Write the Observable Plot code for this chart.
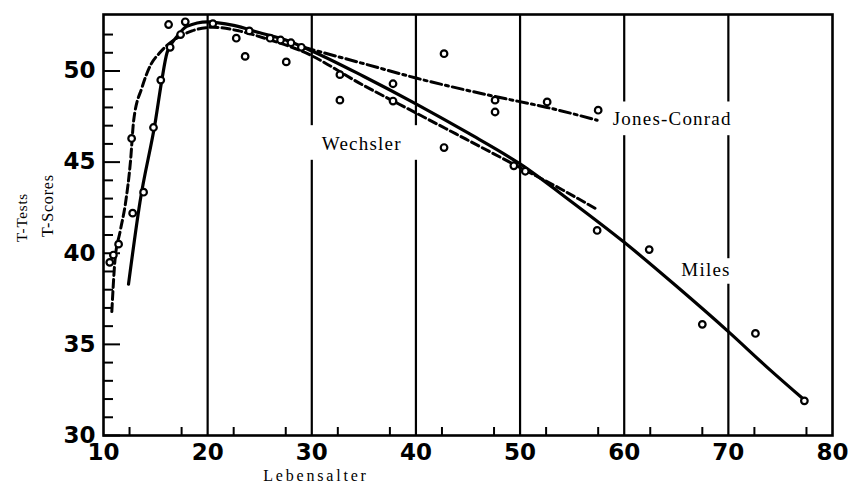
<!DOCTYPE html>
<html>
<head>
<meta charset="utf-8">
<script src="https://cdn.jsdelivr.net/npm/d3@7"></script>
<script src="https://cdn.jsdelivr.net/npm/@observablehq/plot@0.6"></script>
<style>
  html, body { margin: 0; padding: 0; background: #fff; }
  #chart { width: 848px; height: 490px; }
</style>
</head>
<body>
<div id="chart"></div>
<script>
// ---- data ----
const milesAge = [12.4, 13.5, 15.0, 15.6, 16.1, 17.0, 18.0, 20.0, 22.5, 25, 27.5, 30, 35, 40, 45, 50, 55, 60, 65, 70, 74, 77.2];
const milesT   = [38.3, 42.8, 47.3, 49.5, 51.0, 51.85, 52.45, 52.7, 52.5, 52.1, 51.7, 51.1, 49.7, 48.2, 46.6, 44.9, 42.8, 40.6, 38.2, 35.7, 33.6, 32.0];

const wechAge = [10.8, 11.1, 11.6, 12.1, 12.6, 12.9, 13.7, 14.5, 15.4, 16.9, 18.5, 20.5, 23, 26, 29, 35, 40, 45, 50, 54, 57.4];
const wechT   = [36.8, 39.6, 41.2, 42.7, 45.1, 47.3, 49.1, 50.3, 51.0, 51.75, 52.2, 52.4, 52.2, 51.7, 51.1, 49.2, 47.7, 46.2, 44.7, 43.5, 42.4];

const jcAge = [29.2, 35, 40.1, 47.6, 52.6, 57.4];
const jcT   = [51.3, 50.4, 49.6, 48.6, 48.0, 47.3];

const ptAge = [10.6, 10.95, 11.45, 12.8, 12.7, 13.85, 14.8, 15.5, 16.25, 16.4, 17.4, 17.85, 20.5, 22.75, 23.6, 24.0, 26.0, 27.0, 27.55, 28.0, 29.0, 32.7, 32.7, 37.8, 37.8, 42.7, 42.7, 47.6, 47.6, 49.4, 50.5, 52.6, 57.5, 57.4, 62.4, 67.5, 72.6, 77.3];
const ptT   = [39.5, 39.9, 40.5, 42.2, 46.3, 43.35, 46.9, 49.5, 52.55, 51.3, 52.0, 52.7, 52.6, 51.8, 50.8, 52.2, 51.8, 51.7, 50.5, 51.55, 51.3, 49.8, 48.4, 49.3, 48.35, 50.95, 45.8, 48.4, 47.75, 44.8, 44.5, 48.3, 47.85, 41.25, 40.2, 36.1, 35.6, 31.9];

const xTickLabels = [10, 20, 30, 40, 50, 60, 70, 80];
const yTickLabels = [30, 35, 40, 45, 50];
const gridAges = [20, 30, 40, 50, 60, 70];
const groupAges = [12.5, 17.5, 22.5, 27.5, 32.5, 37.5, 42.5, 47.5, 52.5, 57.5, 62.5, 67.5, 72.5, 77.5];
const yMinorTicks = [31, 32, 33, 34, 36, 37, 38, 39, 41, 42, 43, 44, 46, 47, 48, 49, 51, 52];

const labelText = ["Wechsler", "Jones-Conrad", "Miles"];
const labelAge  = [34.8, 58.9, 67.85];
const labelT    = [46.0, 47.37, 39.1];
const labelAnchor = ["middle", "start", "middle"];

// gaps in the vertical grid lines behind the labels
const gapX1 = [29.3, 59.5, 69.5];
const gapX2 = [40.7, 70.5, 70.5];
const gapY1 = [45.1, 46.45, 38.3];
const gapY2 = [47.0, 48.3, 39.7];

// ---- tables ----
const miles = milesAge.map((a, i) => ({age: a, t: milesT[i]}));
const wech = wechAge.map((a, i) => ({age: a, t: wechT[i]}));
const jc = jcAge.map((a, i) => ({age: a, t: jcT[i]}));
const pts = ptAge.map((a, i) => ({age: a, t: ptT[i]}));
const labels = labelText.map((s, i) => ({s, age: labelAge[i], t: labelT[i], anchor: labelAnchor[i]}));
const gaps = gapX1.map((x1, i) => ({x1, x2: gapX2[i], y1: gapY1[i], y2: gapY2[i]}));

const W = 848, H = 490, mL = 103, mR = 16, mT = 14, mB = 55;
const plotW = W - mL - mR, plotH = H - mT - mB;
const serif = "Liberation Serif";
const numFont = "DejaVu Sans";

const chart = Plot.plot({
  width: W,
  height: H,
  marginLeft: mL,
  marginRight: mR,
  marginTop: mT,
  marginBottom: mB,
  x: {domain: [10, 80]},
  y: {domain: [30, 53.1]},
  style: {background: "#fff", color: "#000"},
  marks: [
    Plot.ruleX(gridAges, {x: d => d, stroke: "#000", strokeWidth: 2.2}),
    Plot.rect(gaps, {x1: "x1", x2: "x2", y1: "y1", y2: "y2", fill: "#fff"}),
    Plot.frame({stroke: "#000", strokeWidth: 2.6}),
    Plot.tickY(yMinorTicks, {y: d => d, insetRight: plotW - 10, stroke: "#000", strokeWidth: 2}),
    Plot.tickY(yTickLabels, {y: d => d, insetRight: plotW - 17, stroke: "#000", strokeWidth: 2}),
    Plot.tickX(groupAges, {x: d => d, insetTop: plotH - 8, stroke: "#000", strokeWidth: 2}),
    Plot.axisX({ticks: xTickLabels, tickSize: 0, tickPadding: 8, label: null, fontSize: 23, fontFamily: numFont, fontWeight: "bold", tickFormat: d => d}),
    Plot.axisY({ticks: yTickLabels, tickSize: 0, tickPadding: 8, label: null, fontSize: 23, fontFamily: numFont, fontWeight: "bold", tickFormat: d => d}),
    Plot.line(miles, {x: "age", y: "t", curve: "monotone-x", stroke: "#000", strokeWidth: 3.2}),
    Plot.line(wech, {x: "age", y: "t", curve: "monotone-x", stroke: "#000", strokeWidth: 3, strokeDasharray: "8,4"}),
    Plot.line(jc, {x: "age", y: "t", curve: "monotone-x", stroke: "#000", strokeWidth: 3, strokeDasharray: "11,4,3,4"}),
    Plot.dot(pts, {x: "age", y: "t", r: 3.3, stroke: "#000", strokeWidth: 2.2, fill: "#fff"}),
    Plot.text(labels, {x: "age", y: "t", text: "s", textAnchor: "start", filter: d => d.anchor === "start", fontFamily: serif, fontSize: 19, fill: "#000"}),
    Plot.text(labels, {x: "age", y: "t", text: "s", textAnchor: "middle", filter: d => d.anchor === "middle", fontFamily: serif, fontSize: 19, fill: "#000"}),
    Plot.text(["T-Tests"], {text: d => d, frameAnchor: "left", rotate: -90, dx: -81, dy: 17, fontFamily: serif, fontSize: 15, fill: "#000"}),
    Plot.text(["T-Scores"], {text: d => d, frameAnchor: "left", rotate: -90, dx: -56, dy: 12, fontFamily: serif, fontSize: 16, fill: "#000"}),
    Plot.text(["Lebensalter"], {text: d => d, frameAnchor: "bottom", dx: -152, dy: 45, fontFamily: serif, fontSize: 16, fill: "#000"})
  ]
});

const svg = d3.select(chart);
const spacing = {"Wechsler": 1.2, "Jones-Conrad": 1.2, "Miles": 1.2, "Lebensalter": 2.8, "T-Tests": 0.8, "T-Scores": 0.8};
svg.selectAll("text").each(function () {
  const s = this.textContent;
  if (spacing[s] !== undefined) this.setAttribute("letter-spacing", spacing[s]);
});
document.getElementById("chart").appendChild(chart);
</script>
</body>
</html>
